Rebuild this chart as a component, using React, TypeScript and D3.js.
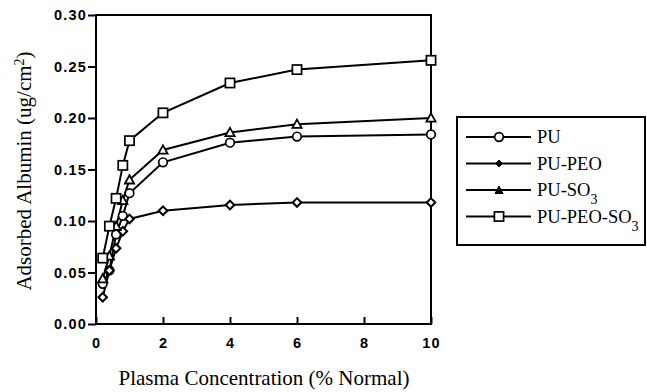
import React, { useEffect, useRef } from 'react';
import * as d3 from 'd3';

const concentrations = [0.2, 0.4, 0.6, 0.8, 1, 2, 4, 6, 10];
const puValues = [0.039, 0.052, 0.087, 0.105, 0.127, 0.157, 0.176, 0.182, 0.184];
const puPeoValues = [0.026, 0.052, 0.0735, 0.09, 0.102, 0.11, 0.1155, 0.118, 0.118];
const puSo3Values = [0.044, 0.066, 0.095, 0.12, 0.14, 0.169, 0.186, 0.194, 0.2];
const puPeoSo3Values = [0.064, 0.095, 0.122, 0.154, 0.178, 0.205, 0.234, 0.247, 0.256];
const xTicks = [0, 2, 4, 6, 8, 10];
const yTicks = [0, 0.05, 0.1, 0.15, 0.2, 0.25, 0.3];

const seriesList = [
  { name: 'PU', sub: '', marker: 'circle', values: puValues },
  { name: 'PU-PEO', sub: '', marker: 'diamond', values: puPeoValues },
  { name: 'PU-SO', sub: '3', marker: 'triangle', values: puSo3Values },
  { name: 'PU-PEO-SO', sub: '3', marker: 'square', values: puPeoSo3Values },
];

const width = 647;
const height = 392;
const margin = { top: 15, right: 216, bottom: 68, left: 96 };
const innerWidth = width - margin.left - margin.right;
const innerHeight = height - margin.top - margin.bottom;

function drawMarker(g, type, x, y) {
  if (type === 'circle') {
    g.append('circle').attr('cx', x).attr('cy', y).attr('r', 4.3)
      .attr('fill', '#fff').attr('stroke', '#000').attr('stroke-width', 1.7);
  } else if (type === 'diamond') {
    const s = 4.3;
    g.append('path')
      .attr('d', `M${x},${y - s}L${x + s},${y}L${x},${y + s}L${x - s},${y}Z`)
      .attr('fill', '#fff').attr('stroke', '#000').attr('stroke-width', 2);
  } else if (type === 'triangle') {
    const s = 4.6;
    g.append('path')
      .attr('d', `M${x},${y - s}L${x + s},${y + s * 0.8}L${x - s},${y + s * 0.8}Z`)
      .attr('fill', '#fff').attr('stroke', '#000').attr('stroke-width', 1.8);
  } else {
    const s = 4.6;
    g.append('rect').attr('x', x - s).attr('y', y - s).attr('width', 2 * s).attr('height', 2 * s)
      .attr('fill', '#fff').attr('stroke', '#000').attr('stroke-width', 1.7);
  }
}

function Chart() {
  const ref = useRef(null);

  useEffect(() => {
    const svg = d3.select(ref.current);
    svg.selectAll('*').remove();

    const xScale = d3.scaleLinear().domain([0, 10]).range([0, innerWidth]);
    const yScale = d3.scaleLinear().domain([0, 0.3]).range([innerHeight, 0]);

    const g = svg.append('g').attr('transform', `translate(${margin.left}, ${margin.top})`);

    // frame
    g.append('rect')
      .attr('width', innerWidth).attr('height', innerHeight)
      .attr('fill', 'none').attr('stroke', '#000').attr('stroke-width', 2);

    // Axis
    const yAxis = g.append('g')
      .call(d3.axisLeft(yScale).tickValues(yTicks).tickSize(8).tickPadding(1).tickFormat(d3.format('.2f')));
    const xAxis = g.append('g')
      .attr('transform', `translate(0, ${innerHeight})`)
      .call(d3.axisBottom(xScale).tickValues(xTicks).tickSize(-7).tickPadding(14).tickFormat(d3.format('d')));

    [xAxis, yAxis].forEach(ax => {
      ax.select('.domain').remove();
      ax.selectAll('line').attr('stroke', '#000').attr('stroke-width', 2);
      ax.selectAll('text')
        .attr('fill', '#000')
        .style('font-family', '"Liberation Sans", Arial, sans-serif')
        .style('font-size', '14.5px')
        .style('font-weight', 'bold')
        .style('letter-spacing', '1.2px');
    });

    // Lines
    const lineGen = d3.line()
      .x((d) => xScale(d[0]))
      .y((d) => yScale(d[1]));

    seriesList.forEach(s => {
      const pts = concentrations.map((c, i) => [c, s.values[i]]);
      g.append('path')
        .datum(pts)
        .attr('d', lineGen)
        .attr('fill', 'none')
        .attr('stroke', '#000')
        .attr('stroke-width', 2);
    });
    seriesList.forEach(s => {
      const mg = g.append('g');
      concentrations.forEach((c, i) => drawMarker(mg, s.marker, xScale(c), yScale(s.values[i])));
    });

    // axis titles
    svg.append('text')
      .attr('x', 264)
      .attr('y', 385)
      .attr('text-anchor', 'middle')
      .style('font-family', '"Liberation Serif", "Times New Roman", serif')
      .style('font-size', '21px')
      .text('Plasma Concentration (% Normal)');

    const yt = svg.append('text')
      .attr('transform', `translate(31, 171) rotate(-90)`)
      .attr('text-anchor', 'middle')
      .style('font-family', '"Liberation Serif", "Times New Roman", serif')
      .style('font-size', '21px');
    yt.append('tspan').text('Adsorbed Albumin (ug/cm');
    yt.append('tspan').attr('baseline-shift', 'super').style('font-size', '14px').text('2');
    yt.append('tspan').text(')');

    // legend
    const legend = svg.append('g').attr('transform', 'translate(457, 117)');
    legend.append('rect')
      .attr('width', 188).attr('height', 128)
      .attr('fill', '#fff').attr('stroke', '#000').attr('stroke-width', 2);

    const legendItem = legend.selectAll('.legend-item')
      .data(seriesList)
      .join('g')
      .attr('class', 'legend-item')
      .attr('transform', (d, i) => `translate(0, ${20 + i * 26.5})`);

    legendItem.append('line')
      .attr('x1', 9).attr('x2', 74).attr('y1', 0).attr('y2', 0)
      .attr('stroke', '#000').attr('stroke-width', 2);
    legendItem.each(function (d) {
      const item = d3.select(this);
      if (d.marker === 'diamond' || d.marker === 'triangle') {
        const s = 3.5;
        const p = d.marker === 'diamond'
          ? `M42,${-s}L${42 + s},0L42,${s}L${42 - s},0Z`
          : `M42,${-s - 0.5}L${42 + s + 0.5},${s}L${42 - s - 0.5},${s}Z`;
        item.append('path').attr('d', p).attr('fill', '#000').attr('stroke', '#000').attr('stroke-width', 1);
      } else {
        drawMarker(item, d.marker, 42, 0);
      }
      const t = item.append('text')
        .attr('x', 80).attr('y', 6)
        .style('font-family', '"Liberation Serif", "Times New Roman", serif')
        .style('font-size', '18.5px');
      t.append('tspan').text(d.name);
      if (d.sub) t.append('tspan').attr('baseline-shift', 'sub').style('font-size', '14px').text(d.sub);
    });
  }, []);

  return <svg ref={ref} width={width} height={height} style={{ position: 'absolute', left: 0, top: 0, background: '#fff' }} />;
}

export default function App() {
  return <Chart />;
}
